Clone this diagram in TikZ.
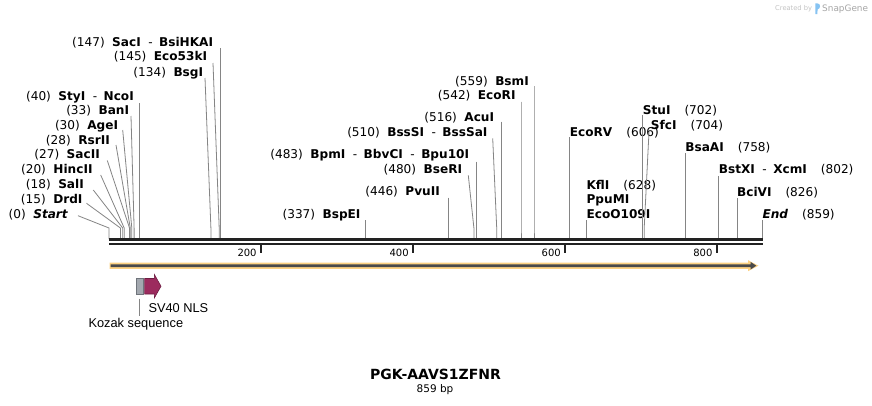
\documentclass[tikz,border=0pt]{standalone}
\usepackage{fontspec}
\setmainfont{DejaVu Sans}
\newfontfamily\featfont{Liberation Sans}
\definecolor{conncol}{HTML}{858585}
\definecolor{bbcol}{HTML}{222222}
\definecolor{featorange}{HTML}{FDD283}
\definecolor{featdark}{HTML}{4A4A4A}
\definecolor{nlscol}{HTML}{9C2B5E}
\definecolor{nlsedge}{HTML}{6E1D42}
\definecolor{kozcol}{HTML}{A3A8AF}
\definecolor{kozedge}{HTML}{6F747B}
\definecolor{logoblue}{HTML}{86C3F2}
\definecolor{credgray}{HTML}{C4C4C4}
\definecolor{snapgray}{HTML}{A6A6A6}
\newcommand{\gp}{\hspace{7.5pt}}
\newcommand{\sepd}{\hspace{7.5pt}-\hspace{6.5pt}}
\newcommand{\rgp}{\hspace{14pt}}
% left / middle labels (right-aligned)
\newcommand{\lsite}[8]{%
  \node[lab, anchor=base east] (L#1) at (#2,#3) {#4};
  \coordinate (E#1) at (#7,#8);
  \coordinate (S#1) at (#7,239);
  \draw[conn] ([shift={(#5,#6)}]L#1.base east) -- (E#1) -- (S#1);
}
% right labels (left-aligned)
\newcommand{\rsite}[7]{%
  \node[lab, anchor=base west] (L#1) at (#2,#3) {#4};
  \coordinate (E#1) at (#7,228);
  \coordinate (S#1) at (#7,239);
  \draw[conn] ([shift={(#5,#6)}]L#1.base west) -- (E#1) -- (S#1);
}
\begin{document}
\begin{tikzpicture}[x=1pt,y=-1pt,
  lab/.style={inner sep=0pt, font=\fontsize{12.1}{13}\selectfont, text=black},
  conn/.style={draw=conncol, line width=0.8pt},
  ticklab/.style={inner sep=0pt, font=\fontsize{10}{12}\selectfont, anchor=base east},
  tickmark/.style={draw=bbcol, line width=1.8pt},
  featlab/.style={inner sep=0pt, font=\featfont\fontsize{12.8}{14}\selectfont, anchor=base west}]
\useasboundingbox[fill=white] (0,0) rectangle (872,405);

% ---------- left group ----------
\lsite{start}{68.3}{218}{(0)\gp\textbf{\textit{Start}}}{9.7}{-2.3}{109.0}{228}
\lsite{drdi}{82.7}{203.3}{(15)\gp\textbf{DrdI}}{3.8}{0}{120.4}{228}
\lsite{sali}{84}{188.5}{(18)\gp\textbf{SalI}}{9.3}{1.5}{122.7}{228}
\lsite{hincii}{92.7}{173.5}{(20)\gp\textbf{HincII}}{8}{1.5}{124.2}{228}
\lsite{sacii}{100}{158.5}{(27)\gp\textbf{SacII}}{7.3}{2}{129.5}{228}
\lsite{rsrii}{110}{144}{(28)\gp\textbf{RsrII}}{6}{1}{130.3}{228}
\lsite{agei}{118.3}{129}{(30)\gp\textbf{AgeI}}{4.4}{1}{131.8}{228}
\lsite{bani}{129.3}{114.5}{(33)\gp\textbf{BanI}}{1.7}{1.5}{134.1}{228}
\lsite{styi}{134}{100}{(40)\gp\textbf{StyI}\sepd\textbf{NcoI}}{5.4}{3}{139.4}{228}
\lsite{bsgi}{203.3}{76}{(134)\gp\textbf{BsgI}}{1.7}{2}{210.9}{228}
\lsite{ecofiftythree}{207.3}{60.5}{(145)\gp\textbf{Eco53kI}}{5.7}{2.5}{219.2}{228}
\lsite{saci}{213.3}{46}{(147)\gp\textbf{SacI}\sepd\textbf{BsiHKAI}}{7.4}{2}{220.7}{228}

% ---------- middle group ----------
\lsite{bspei}{360.7}{218}{(337)\gp\textbf{BspEI}}{4.5}{2}{365.2}{228}
\lsite{pvuii}{440}{195.5}{(446)\gp\textbf{PvuII}}{8.1}{2.2}{448.1}{228}
\lsite{bseri}{462.3}{173.5}{(480)\gp\textbf{BseRI}}{6}{1.8}{473.9}{228}
\lsite{bpmi}{469.3}{158.5}{(483)\gp\textbf{BpmI}\sepd\textbf{BbvCI}\sepd\textbf{Bpu10I}}{6.9}{3.2}{476.2}{228}
\lsite{bsssi}{487.7}{136}{(510)\gp\textbf{BssSI}\sepd\textbf{BssSaI}}{5}{2.3}{496.7}{228}
\lsite{acui}{494.3}{121}{(516)\gp\textbf{AcuI}}{7}{0.7}{501.3}{228}
\lsite{ecori}{515.7}{99.5}{(542)\gp\textbf{EcoRI}}{5.3}{2.2}{521}{228}
\lsite{bsmi}{529}{85.5}{(559)\gp\textbf{BsmI}}{5}{0.5}{534}{228}

% ---------- right group ----------
\rsite{ecorv}{569.7}{136}{\textbf{EcoRV}\rgp(606)}{0}{1}{569.7}
\node[lab, anchor=base west] (Lkfli) at (586.4,189) {\textbf{KflI}\rgp(628)};
\node[lab, anchor=base west] (Lppumi) at (586.4,203.5) {\textbf{PpuMI}};
\rsite{ecoo}{586.4}{218}{\textbf{EcoO109I}}{0}{2}{586.4}
\rsite{stui}{642.7}{114}{\textbf{StuI}\rgp(702)}{0}{1}{642.7}
\rsite{sfci}{650.7}{129.3}{\textbf{SfcI}\rgp(704)}{-1.7}{2.4}{644.2}
\rsite{bsaai}{685.2}{151}{\textbf{BsaAI}\rgp(758)}{0}{2}{685.2}
\rsite{bstxi}{718.7}{173.3}{\textbf{BstXI}\sepd\textbf{XcmI}\rgp(802)}{0}{2.5}{718.7}
\rsite{bcivi}{736.9}{196}{\textbf{BciVI}\rgp(826)}{0}{2}{736.9}
\rsite{end}{762.3}{218.3}{\textbf{\textit{End}}\rgp(859)}{0}{1.7}{762.3}

% ---------- backbone ----------
\coordinate (bbL1) at (109,239.8);
\coordinate (bbR1) at (762.8,239.8);
\coordinate (bbL2) at (109,244.2);
\coordinate (bbR2) at (762.8,244.2);
\draw[bbcol, line width=3pt] (bbL1) -- (bbR1);
\draw[bbcol, line width=2.4pt] (bbL2) -- (bbR2);

% ticks
\foreach \tx/\tl in {260.8/200, 412.9/400, 565.0/600, 716.6/800}{
  \coordinate (t\tl a) at (\tx,245.3);
  \coordinate (t\tl b) at (\tx,252.7);
  \draw[tickmark] (t\tl a) -- (t\tl b);
  \node[ticklab] (tl\tl) at (\tx-4,256) {\tl};
}

% ---------- feature arrow ----------
\fill[featorange] (109.5,262.7) -- (748,262.7) -- (748,260.2) -- (758.5,265.7)
  -- (748,271.2) -- (748,268.8) -- (109.5,268.8) -- cycle;
\fill[featdark] (110.5,264.4) -- (750.5,264.4) -- (750.5,261.9) -- (756.3,265.7)
  -- (750.5,269.5) -- (750.5,267) -- (110.5,267) -- cycle;

% ---------- small features ----------
\filldraw[fill=kozcol, draw=kozedge, line width=0.6pt] (136.3,278.5) rectangle (143.2,294);
\filldraw[fill=nlscol, draw=nlsedge, line width=0.6pt] (144.6,278.5) -- (154.3,278.5)
  -- (154.3,274.4) -- (161,286.2) -- (154.3,298) -- (154.3,294) -- (144.6,294) -- cycle;
\node[featlab] (sv40) at (148.3,312.5) {SV40 NLS};
\node[featlab] (kozak) at (88.3,327.5) {Kozak sequence};
\coordinate (kozA) at (139.3,298.5);
\coordinate (kozB) at (139.3,315.5);
\draw[conn, line width=0.7pt] (kozA) -- (kozB);

% ---------- title ----------
\node[inner sep=0pt, anchor=base, font=\fontsize{14}{16}\selectfont\bfseries] (title) at (435.5,379) {PGK-AAVS1ZFNR};
\node[inner sep=0pt, anchor=base, font=\fontsize{10.5}{12}\selectfont] (bplen) at (435,392.3) {859 bp};

% ---------- credit ----------
\node[inner sep=0pt, anchor=base west, font=\fontsize{6.7}{8}\selectfont, text=credgray] (created) at (775,10.5) {Created by};
\fill[logoblue] (815.3,3.3) -- (817.3,3.3) .. controls (820.8,3.6) and (821,8.6) .. (817.6,9.4) -- (817.3,14.2) -- (815.3,14.2) -- cycle;
\node[inner sep=0pt, anchor=base west, font=\fontsize{8.9}{10}\selectfont, text=snapgray] (snapgene) at (822,11) {SnapGene};
\end{tikzpicture}
\end{document}
